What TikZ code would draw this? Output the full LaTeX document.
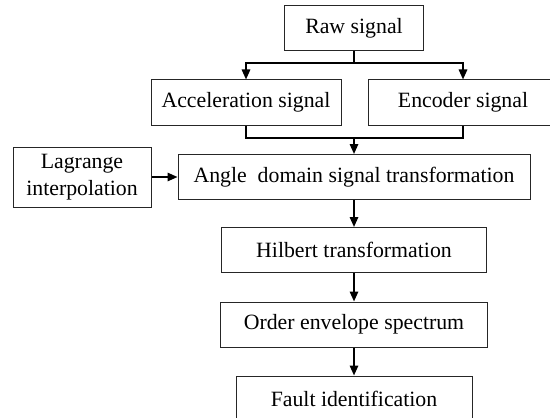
\documentclass[tikz,border=0pt]{standalone}
\usepackage{fontspec}
\setmainfont{Liberation Serif}
\usetikzlibrary{arrows.meta}

\tikzset{
  blk/.style={draw=black!85, line width=0.5pt, minimum height=22.5pt, inner sep=0pt,
    align=center, font=\fontsize{10.9}{13.3}\selectfont},
  link/.style={line width=0.9pt},
  flow/.style={link, -{Triangle[length=5pt,width=4.2pt]}},
}

\begin{document}
\begin{tikzpicture}[x=0.5pt, y=-0.5pt]
    \useasboundingbox (0,0) rectangle (550,417);
    \clip (0,0) rectangle (550,417);

    % blocks
    \node[blk, minimum width=69.5pt] (raw) at (354,28.5) {Raw signal};
    \node[blk, minimum width=95pt] (acc) at (246,102.5) {Acceleration signal};
    \node[blk, minimum width=95pt] (enc) at (463,102.5) {Encoder signal};
    \node[blk, minimum width=176pt] (angle) at (354,177) {Angle\ \ domain signal transformation};
    \node[blk, minimum width=69pt, minimum height=30pt] (lagr) at (82,177) {Lagrange\\interpolation};
    \node[blk, minimum width=132.5pt] (hilb) at (354,250) {Hilbert transformation};
    \node[blk, minimum width=133.5pt] (order) at (354,324.5) {Order envelope spectrum};
    \node[blk, minimum width=118pt] (fault) at (354,398.5) {Fault identification};

    \coordinate (split) at (354,63);
    \coordinate (merge) at (354,138);

    % connectors
    \draw[link] (raw.south) -- (split);
    \draw[flow] (split) -| (acc.north);
    \draw[flow] (split) -| (enc.north);
    \draw[link] (acc.south) |- (merge) -| (enc.south);
    \draw[flow] (merge) -- (angle.north);
    \draw[flow] (lagr.east) -- (angle.west);
    \draw[flow] (angle) -- (hilb);
    \draw[flow] (hilb) -- (order);
    \draw[flow] (order) -- (fault);
\end{tikzpicture}
\end{document}
